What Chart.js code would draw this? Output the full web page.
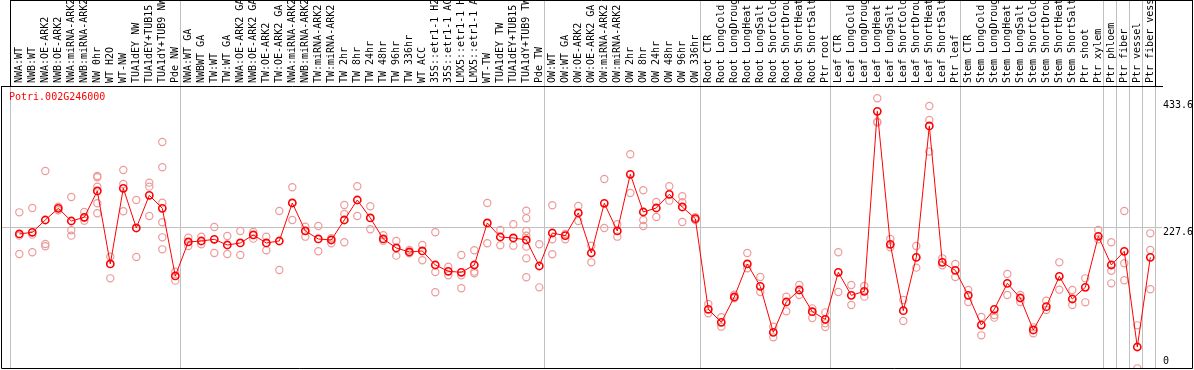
<!DOCTYPE html>
<html>
<head>
<meta charset="utf-8">
<script src="https://cdn.jsdelivr.net/npm/chart.js@4.4.1/dist/chart.umd.min.js"></script>
<style>
  body { margin: 0; background: #fff; }
  #wrap { width: 1194px; height: 370px; }
</style>
</head>
<body>
<div id="wrap"><canvas id="exprChart" width="1194" height="370"></canvas></div>
<script>
var geneName = 'Potri.002G246000';

var categories = [
  'NWA:WT', 'NWB:WT', 'NWA:OE-ARK2', 'NWB:OE-ARK2', 'NWA:miRNA-ARK2', 'NWB:miRNA-ARK2',
  'NW 0hr', 'WT H2O', 'WT-NW', 'TUA1dEY NW', 'TUA1dEY+TUB15 NW', 'TUA1dY+TUB9 NW', 'Pde NW',
  'NWA:WT GA', 'NWBWT GA', 'TW:WT', 'TW:WT GA', 'NWA:OE-ARK2 GA', 'NWB:OE-ARK2 GA',
  'TW:OE-ARK2', 'TW:OE-ARK2 GA', 'NWA:miRNA-ARK2', 'NWB:miRNA-ARK2', 'TW:miRNA-ARK2', 'TW:miRNA-ARK2',
  'TW 2hr', 'TW 8hr', 'TW 24hr', 'TW 48hr', 'TW 96hr', 'TW 336hr', 'WT ACC',
  '35S::etr1-1 H2O', '35S::etr1-1 ACC', 'LMX5::etr1-1 H2O', 'LMX5::etr1-1 ACC',
  'WT-TW', 'TUA1dEY TW', 'TUA1dEY+TUB15 TW', 'TUA1dY+TUB9 TW', 'Pde TW',
  'OW:WT', 'OW:WT GA', 'OW:OE-ARK2', 'OW:OE-ARK2 GA', 'OW:miRNA-ARK2', 'OW:miRNA-ARK2',
  'OW 2hr', 'OW 8hr', 'OW 24hr', 'OW 48hr', 'OW 96hr', 'OW 336hr',
  'Root CTR', 'Root LongCold', 'Root LongDrought', 'Root LongHeat', 'Root LongSalt',
  'Root ShortCold', 'Root ShortDrought', 'Root ShortHeat', 'Root ShortSalt', 'Ptr root',
  'Leaf CTR', 'Leaf LongCold', 'Leaf LongDrought', 'Leaf LongHeat', 'Leaf LongSalt',
  'Leaf ShortCold', 'Leaf ShortDrought', 'Leaf ShortHeat', 'Leaf ShortSalt', 'Ptr leaf',
  'Stem CTR', 'Stem LongCold', 'Stem LongDrought', 'Stem LongHeat', 'Stem LongSalt',
  'Stem ShortCold', 'Stem ShortDrought', 'Stem ShortHeat', 'Stem ShortSalt', 'Ptr shoot',
  'Ptr xylem', 'Ptr phloem', 'Ptr fiber', 'Ptr vessel', 'Ptr fiber vessel'
];

// index of the last sample in each block (a grey separator follows it)
var groupEnds = [12, 40, 52, 62, 72, 83, 84, 85, 86, 87];

var means = [
  215.8, 218.7, 240.6, 261.3, 238.8, 245.4, 292.1, 162.5, 296.9, 226.4, 284.4, 261.3, 141.2,
  201.6, 203.3, 206.3, 196.2, 199.8, 214.0, 199.8, 203.3, 270.8, 221.1, 206.9, 205.1, 240.6,
  276.1, 244.2, 206.9, 190.9, 183.8, 185.6, 160.7, 149.5, 147.7, 160.7, 235.3, 210.4, 208.7,
  205.1, 158.9,
  217.5, 212.8, 253.1, 182.0, 270.2, 221.1, 321.7, 254.8, 261.9, 286.2, 263.7, 243.0,
  82.0, 58.9, 103.9, 162.5, 122.8, 41.1, 95.0, 116.3, 77.8, 64.2,
  147.7, 106.8, 113.9, 433.6, 197.4, 79.6, 174.3, 407.6, 165.4, 151.2,
  106.8, 54.1, 82.0, 128.1, 102.1, 45.3, 86.7, 140.6, 100.3, 121.0, 211.6,
  160.7, 185.0, 15.1, 174.3
];

var replicates = [
  [254.2, 212.8, 180.2], [261.9, 214.6, 183.2], [327.6, 198.0, 193.9], [258.0, 264.0],
  [281.5, 222.3, 212.8], [254.8, 239.4, 245.0], [318.8, 316.4, 299.8, 270.2, 252.5],
  [175.5, 137.0], [329.4, 304.6, 256.0], [276.1, 174.9], [306.9, 299.8, 247.7],
  [379.1, 334.2, 271.4, 236.5, 209.8, 188.5], [148.9, 132.9],
  [209.2, 194.4], [211.0, 197.4], [228.2, 182.0], [212.2, 180.2], [221.1, 178.5],
  [219.3, 207.5], [211.0, 186.8], [256.6, 151.8], [298.6, 240.6], [228.8, 211.0],
  [230.0, 185.0], [208.1, 199.2], [267.3, 251.3, 201.0], [300.4, 247.7], [264.9, 224.1],
  [213.4, 203.9], [203.3, 177.3], [187.3, 181.4], [196.2, 169.0], [218.7, 148.3, 112.2],
  [157.7, 142.4], [178.5, 142.4, 119.3], [186.8, 148.9, 145.9], [270.8, 199.2],
  [222.9, 195.6], [232.9, 195.0], [257.2, 243.6, 221.1, 212.8, 193.3, 172.5, 138.8],
  [197.4, 121.0],
  [266.7, 206.3, 179.7], [215.8, 206.3], [265.5, 238.8], [195.0, 165.4], [313.4, 226.4],
  [232.9, 211.0], [357.2, 288.6], [293.3, 240.6, 230.0], [272.6, 246.0], [300.4, 274.9],
  [282.7, 272.0, 237.1], [245.4, 240.6],
  [91.5, 74.9], [67.8, 51.2], [108.0, 101.5], [182.0, 154.8], [139.4, 112.8], [51.2, 32.2],
  [104.5, 78.4], [125.2, 107.4], [83.7, 66.6], [76.6, 57.1, 50.6],
  [183.2, 112.8], [125.2, 89.7], [123.4, 104.5], [456.7, 415.3, 413.5], [206.9, 192.1],
  [98.5, 61.3], [194.4, 156.0], [443.1, 418.2, 362.0], [172.5, 160.1], [162.5, 139.4],
  [116.3, 95.0], [68.4, 35.8], [71.9, 67.2], [144.7, 107.4], [107.4, 95.0], [50.0, 39.3],
  [97.4, 80.8], [165.4, 116.9], [116.3, 89.7], [137.0, 94.4], [222.9, 206.3],
  [201.0, 150.6, 128.1], [256.6, 163.7, 133.5], [53.5, -22.8], [216.9, 187.3, 117.5]
];

var yTickValues = [0, 227.6, 433.6];

var monoFont = { family: "'DejaVu Sans Mono', 'Liberation Mono', monospace", size: 10, lineHeight: '11px' };

var meanPoints = means.map(function(v, i) { return { x: i, y: v }; });
var repPoints = [];
replicates.forEach(function(reps, i) {
  reps.forEach(function(v) { repPoints.push({ x: i, y: v }); });
});

var X_MIN = -1.331, X_MAX = 87.9;

function noPadding(axis) {
  axis.paddingTop = 0;
  axis.paddingBottom = 0;
  axis.paddingLeft = 0;
  axis.paddingRight = 0;
}

// frame and gene name
var framePlugin = {
  id: 'frame',
  afterDraw: function(chart) {
    var ctx = chart.ctx, a = chart.chartArea;
    ctx.save();
    ctx.strokeStyle = '#000';
    ctx.lineWidth = 1;
    ctx.beginPath();
    ctx.moveTo(a.left - 0.5, a.top);
    ctx.lineTo(a.left - 0.5, a.bottom + 0.5);
    ctx.lineTo(chart.width - 1.5, a.bottom + 0.5);
    ctx.lineTo(chart.width - 1.5, 0);
    ctx.moveTo(chart.scales.x.getPixelForValue(-0.69), 0.5);
    ctx.lineTo(chart.width - 1.5, 0.5);
    ctx.stroke();
    ctx.fillStyle = '#ff0000';
    ctx.font = "10px 'DejaVu Sans Mono', monospace";
    ctx.textBaseline = 'middle';
    ctx.fillText(geneName, a.left + 7, a.top + 11);
    ctx.restore();
  }
};

var ctx = document.getElementById('exprChart');
var chart = new Chart(ctx, {
  type: 'line',
  data: {
    datasets: [{
      label: 'mean',
      data: meanPoints,
      borderColor: '#ff0000',
      borderWidth: 1,
      pointRadius: 3.6,
      pointBorderWidth: 1.6,
      pointBorderColor: '#ff0000',
      pointBackgroundColor: 'rgba(0,0,0,0)',
      tension: 0,
      fill: false
    }, {
      label: 'replicates',
      data: repPoints,
      showLine: false,
      pointRadius: 3.6,
      pointBorderWidth: 1.2,
      pointBorderColor: '#ee9a9a',
      pointBackgroundColor: 'rgba(0,0,0,0)'
    }]
  },
  options: {
    responsive: false,
    animation: false,
    devicePixelRatio: 1,
    layout: { autoPadding: false, padding: { left: 2, bottom: 2, top: 0, right: 0 } },
    plugins: { legend: { display: false }, tooltip: { enabled: false } },
    scales: {
      x: {
        type: 'linear',
        position: 'top',
        weight: 1,
        min: X_MIN,
        max: X_MAX,
        afterBuildTicks: function(axis) {
          axis.ticks = categories.map(function(c, i) { return { value: i }; });
        },
        afterFit: function(axis) { axis.height = 86; noPadding(axis); },
        ticks: {
          autoSkip: false,
          minRotation: 90,
          maxRotation: 90,
          padding: 3,
          labelOffset: 11,
          color: '#000',
          font: monoFont,
          callback: function(value) { return categories[value]; }
        },
        grid: { display: false, drawTicks: false },
        border: { display: true, color: '#000', width: 1 }
      },
      sep: {
        type: 'linear',
        position: 'top',
        weight: 0,
        min: X_MIN,
        max: X_MAX,
        afterBuildTicks: function(axis) {
          var t = [{ value: -0.69 }];
          groupEnds.forEach(function(e) { t.push({ value: e + 0.385 }); });
          axis.ticks = t;
        },
        afterFit: function(axis) { axis.height = 0; noPadding(axis); },
        ticks: { display: false },
        grid: {
          color: '#c0c0c0',
          lineWidth: 1,
          drawTicks: true,
          tickLength: 86,
          tickColor: function(c) {
            return (c.index === 0 || c.index === groupEnds.length) ? '#000' : '#c0c0c0';
          }
        },
        border: { display: false }
      },
      y: {
        type: 'linear',
        position: 'right',
        min: -22.2,
        max: 478.5,
        afterBuildTicks: function(axis) {
          axis.ticks = yTickValues.map(function(v) { return { value: v }; });
        },
        afterFit: function(axis) { axis.width = 32; noPadding(axis); },
        ticks: {
          autoSkip: false,
          padding: 1,
          color: '#000',
          font: monoFont,
          callback: function(value) {
            return value === 433.6 ? ['433.6', ''] : ['', String(value)];
          }
        },
        grid: {
          drawTicks: false,
          color: function(c) { return c.tick && c.tick.value === 227.6 ? '#c0c0c0' : 'rgba(0,0,0,0)'; }
        },
        border: { display: false }
      }
    }
  },
  plugins: [framePlugin]
});
</script>
</body>
</html>
